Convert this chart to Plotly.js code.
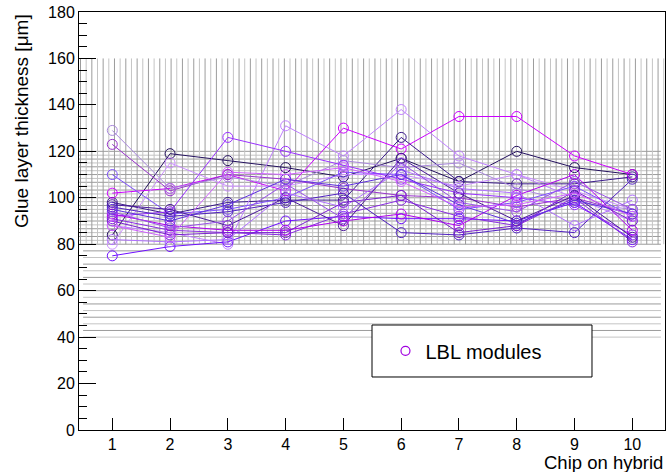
<!DOCTYPE html>
<html><head><meta charset="utf-8">
<script src="https://cdn.plot.ly/plotly-3.0.1.min.js"></script>
<style>html,body{margin:0;padding:0;background:#fff;}#chart{width:670px;height:472px;}</style>
</head><body><div id="chart"></div>
<script>
// Chip positions on the hybrid
const chips = [1, 2, 3, 4, 5, 6, 7, 8, 9, 10];
const chipTickLabels = ['1', '2', '3', '4', '5', '6', '7', '8', '9', '10'];

// Glue layer thickness [um] per module
const module01 = [84, 119, 116, 113, 109, 117, 107, 120, 113, 110];
const module02 = [98, 93, 98, 99, 99, 126, 107, 106, 106, 109];
const module03 = [102, 104, 110, 103, 130, 121, 135, 135, 118, 110];
const module04 = [80, 115, 105, 105, 110, 110, 105, 110, 103, 95];
const module05 = [88, 85, 80, 131, 118, 138, 118, 110, 100, 90];
const module06 = [123, 103, 110, 108, 104, 101, 100, 96, 100, 93];
const module07 = [129, 104, 109, 105, 116, 113, 115, 104, 98, 95];
const module08 = [110, 93, 95, 100, 111, 110, 95, 98, 105, 92];
const module09 = [92, 94, 126, 120, 114, 108, 102, 100, 97, 84];
const module10 = [75, 79, 81, 90, 92, 91, 91, 90, 98, 82];
const module11 = [91, 86, 85, 84, 93, 99, 92, 88, 100, 81];
const module12 = [97, 95, 88, 100, 88, 117, 102, 90, 101, 83];
const module13 = [93, 88, 86, 86, 90, 93, 88, 101, 110, 86];
const module14 = [96, 92, 94, 98, 102, 85, 84, 87, 85, 108];
const module15 = [82, 81, 82, 102, 96, 112, 104, 102, 88, 99];
const module16 = [90, 84, 85, 85, 98, 101, 85, 88, 103, 90];
const module17 = [94, 87, 90, 106, 91, 115, 98, 94, 107, 95];
const module18 = [95, 90, 97, 108, 105, 110, 97, 89, 99, 93];
const module19 = [88, 83, 111, 110, 113, 107, 96, 97, 102, 92];

const legendName = 'LBL modules';

const modules = [module01, module02, module03, module04, module05, module06, module07,
  module08, module09, module10, module11, module12, module13, module14, module15,
  module16, module17, module18, module19];
const colors = ['#24115e', '#3a1a8a', '#cc00ff', '#cc90ff', '#c080ff', '#9933cc', '#aa88dd',
  '#8050ff', '#9a30ff', '#7010ff', '#8a2be2', '#4b1a9a', '#b000f0', '#5020c0', '#b070ff',
  '#7a1fd0', '#9950e8', '#6030e0', '#d060ff'];

const traces = modules.map((vals, i) => ({
  x: chips, y: vals, type: 'scatter', mode: 'lines+markers',
  line: {color: colors[i], width: 1},
  marker: {symbol: 'circle-open', size: 10, color: colors[i], line: {width: 1, color: colors[i]}},
  showlegend: false, hoverinfo: 'x+y'
}));
traces.push({
  x: [null], y: [null], type: 'scatter', mode: 'markers', name: legendName,
  marker: {symbol: 'circle-open', size: 9, color: '#a000e0', line: {width: 1.2, color: '#a000e0'}},
  showlegend: true
});

const xMin = 0.424, xMax = 10.566;
const shapes = [];
// vertical hatch lines 80..160
let k = 0;
for (let x = 0.45; x < xMax - 0.01; x += 0.098) {
  shapes.push({type: 'line', xref: 'x', yref: 'y', x0: x, x1: x, y0: 80, y1: 160,
    line: {color: (k % 2 ? '#c4c4c4' : '#9c9c9c'), width: 1}, layer: 'below'});
  k++;
}
// horizontal lines 80..120
for (let j = 0; j <= 24; j++) {
  const y = 80 + j * 40 / 24;
  shapes.push({type: 'line', xref: 'paper', yref: 'y', x0: 0, x1: 0.993, y0: y, y1: y,
    line: {color: (j % 2 ? '#c4c4c4' : '#9c9c9c'), width: 1}, layer: 'below'});
}
// horizontal lines 40..77
for (let j = 0; j < 14; j++) {
  const y = 40 + j * 40 / 14;
  shapes.push({type: 'line', xref: 'paper', yref: 'y', x0: 0.007, x1: 0.993, y0: y, y1: y,
    line: {color: (j % 2 ? '#9c9c9c' : '#c4c4c4'), width: 1}, layer: 'below'});
}
// legend box
shapes.push({type: 'rect', xref: 'paper', yref: 'paper', x0: 0.5, x1: 0.8754, y0: 0.1268, y1: 0.2512,
  fillcolor: '#ffffff', line: {color: '#000000', width: 1}, layer: 'below'});

const font = {family: 'Liberation Sans, Arial, Helvetica, sans-serif', color: '#000'};

const layout = {
  width: 670, height: 472,
  margin: {l: 79, r: 5, t: 12, b: 42, pad: 0},
  paper_bgcolor: '#fff', plot_bgcolor: '#fff',
  font: Object.assign({size: 16}, font),
  showlegend: true,
  legend: {x: 0.523, xanchor: 'left', y: 0.236, yanchor: 'top', bgcolor: 'rgba(0,0,0,0)',
    borderwidth: 0, font: Object.assign({size: 20}, font)},
  xaxis: {
    range: [xMin, xMax], tickmode: 'array', tickvals: chips, ticktext: chipTickLabels,
    ticks: 'inside', ticklen: 12, tickwidth: 1, tickcolor: '#000',
    showline: true, linecolor: '#000', linewidth: 1, mirror: true,
    showgrid: false, zeroline: false, tickfont: Object.assign({size: 16}, font)
  },
  yaxis: {
    range: [0, 180], dtick: 20, tick0: 0,
    ticks: 'inside', ticklen: 17, tickwidth: 1, tickcolor: '#000',
    minor: {dtick: 5, ticks: 'inside', ticklen: 8, tickcolor: '#000', showgrid: false},
    showline: true, linecolor: '#000', linewidth: 1, mirror: true,
    showgrid: false, zeroline: false, tickfont: Object.assign({size: 16}, font)
  },
  shapes: shapes,
  annotations: [
    {text: 'Chip on hybrid', xref: 'paper', yref: 'paper', x: 1, y: 0, xanchor: 'right', yanchor: 'top',
      yshift: -20, showarrow: false, font: Object.assign({size: 18.5}, font)},
    {text: 'Glue layer thickness [μm]', xref: 'paper', yref: 'paper', x: 0, y: 1, xanchor: 'center',
      yanchor: 'top', xshift: -58, textangle: -90, showarrow: false, font: Object.assign({size: 19}, font)}
  ]
};

Plotly.newPlot('chart', traces, layout, {displayModeBar: false, staticPlot: true});
</script></body></html>
